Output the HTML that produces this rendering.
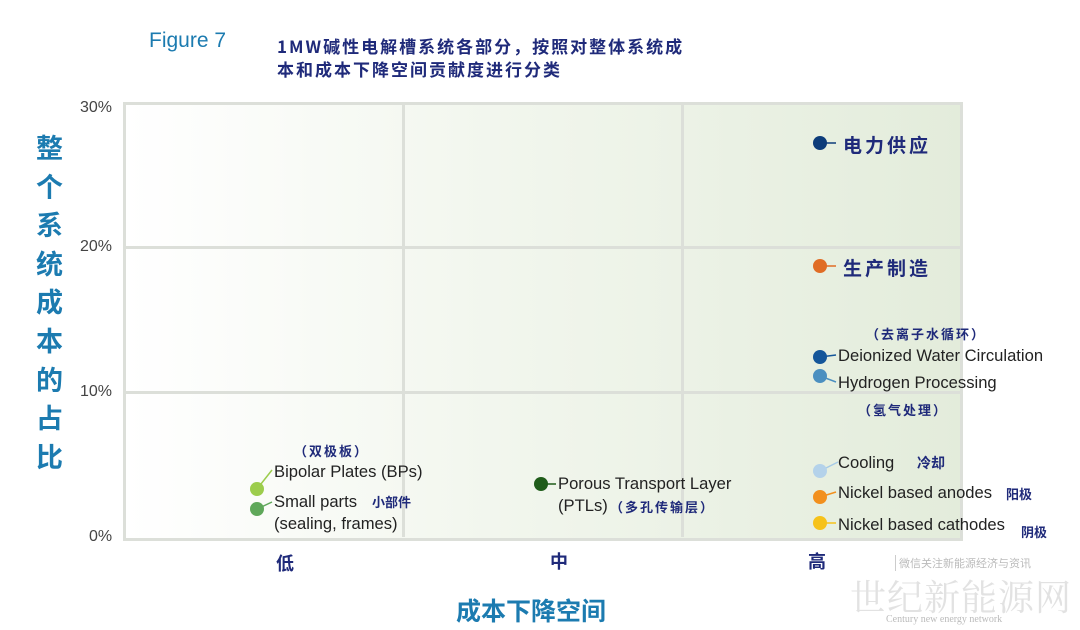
<!DOCTYPE html>
<html><head><meta charset="utf-8"><style>
body{margin:0;width:1080px;height:630px;background:#fff;position:relative;overflow:hidden;font-family:"Liberation Sans","Noto Sans CJK SC",sans-serif}
.a{position:absolute;white-space:nowrap}
.cn{font-family:"Noto Sans CJK SC",sans-serif;color:#1f2a7a}
.lab{font-size:16.6px;color:#222}
</style></head><body>
<div class="a" style="left:149px;top:29px;font-size:21px;color:#1c7bb0">Figure 7</div>
<div class="a cn" style="left:277px;top:34px;font-size:17px;line-height:23px;font-weight:bold;letter-spacing:2px">1MW碱性电解槽系统各部分，按照对整体系统成<br>本和成本下降空间贡献度进行分类</div>

<div class="a" style="left:123px;top:102px;width:834px;height:433px;border:3px solid #dcdfd9;background:linear-gradient(90deg,#ffffff 0%,#f3f7ef 40%,#e3ecdb 100%)"></div>
<div class="a" style="left:402px;top:105px;width:3px;height:432px;background:#dcdfd9"></div>
<div class="a" style="left:681px;top:105px;width:3px;height:432px;background:#dcdfd9"></div>
<div class="a" style="left:126px;top:246px;width:834px;height:3px;background:#dcdfd9"></div>
<div class="a" style="left:126px;top:391px;width:834px;height:3px;background:#dcdfd9"></div>

<div class="a" style="left:80px;top:99px;font-size:16px;color:#444">30%</div>
<div class="a" style="left:80px;top:238px;font-size:16px;color:#444">20%</div>
<div class="a" style="left:80px;top:383px;font-size:16px;color:#444">10%</div>
<div class="a" style="left:89px;top:528px;font-size:16px;color:#444">0%</div>

<div class="a" style="left:36px;top:128px;width:30px;font-size:27px;font-weight:bold;line-height:38.6px;color:#1c7bb0;white-space:normal;font-family:'Noto Sans CJK SC',sans-serif">整个系统成本的占比</div>
<div class="a cn" style="left:276px;top:550px;font-size:18px;font-weight:bold">低</div>
<div class="a cn" style="left:550px;top:548px;font-size:18px;font-weight:bold">中</div>
<div class="a cn" style="left:808px;top:548px;font-size:18px;font-weight:bold">高</div>
<div class="a" style="left:456px;top:592px;font-size:25px;font-weight:bold;color:#1c7bb0;font-family:'Noto Sans CJK SC',sans-serif">成本下降空间</div>

<svg class="a" style="left:0;top:0" width="1080" height="630">
<g stroke-width="1.5" fill="none">
<line x1="820" y1="143" x2="836" y2="143" stroke="#0d3c7a"/>
<line x1="820" y1="266" x2="836" y2="266" stroke="#e06c25"/>
<line x1="820" y1="357" x2="836" y2="355" stroke="#15569a"/>
<line x1="820" y1="376" x2="836" y2="382" stroke="#4b8fc0"/>
<line x1="820" y1="471" x2="838" y2="462" stroke="#a8cbe6"/>
<line x1="820" y1="497" x2="836" y2="492" stroke="#f2901e"/>
<line x1="820" y1="523" x2="836" y2="523" stroke="#f6c21a"/>
<line x1="541" y1="484" x2="556" y2="484" stroke="#1f5c1a"/>
<line x1="257" y1="489" x2="272" y2="470" stroke="#9ccd4c"/>
<line x1="257" y1="509" x2="272" y2="502" stroke="#5fa85a"/>
</g>
<circle cx="820" cy="143" r="7" fill="#0d3c7a"/>
<circle cx="820" cy="266" r="7" fill="#e06c25"/>
<circle cx="820" cy="357" r="7" fill="#15569a"/>
<circle cx="820" cy="376" r="7" fill="#4b8fc0"/>
<circle cx="820" cy="471" r="7" fill="#b4d2ea"/>
<circle cx="820" cy="497" r="7" fill="#f2901e"/>
<circle cx="820" cy="523" r="7" fill="#f6c21a"/>
<circle cx="541" cy="484" r="7" fill="#1f5c1a"/>
<circle cx="257" cy="489" r="7" fill="#9ccd4c"/>
<circle cx="257" cy="509" r="7" fill="#5fa85a"/>
</svg>

<div class="a cn" style="left:843px;top:131px;font-size:19px;letter-spacing:3px;font-weight:bold">电力供应</div>
<div class="a cn" style="left:843px;top:254px;font-size:19px;letter-spacing:3px;font-weight:bold">生产制造</div>
<div class="a cn" style="left:866px;top:324px;font-size:13px;letter-spacing:2px;font-weight:bold">（去离子水循环）</div>
<div class="a lab" style="left:838px;top:346px">Deionized Water Circulation</div>
<div class="a lab" style="left:838px;top:373px">Hydrogen Processing</div>
<div class="a cn" style="left:858px;top:400px;font-size:13px;letter-spacing:2px;font-weight:bold">（氢气处理）</div>
<div class="a lab" style="left:838px;top:453px">Cooling</div>
<div class="a cn" style="left:917px;top:453px;font-size:14px;font-weight:bold">冷却</div>
<div class="a lab" style="left:838px;top:483px">Nickel based anodes</div>
<div class="a cn" style="left:1006px;top:484px;font-size:13px;font-weight:bold">阳极</div>
<div class="a lab" style="left:838px;top:515px">Nickel based cathodes</div>
<div class="a cn" style="left:1021px;top:522px;font-size:13px;font-weight:bold">阴极</div>
<div class="a lab" style="left:558px;top:474px">Porous Transport Layer</div>
<div class="a lab" style="left:558px;top:496px">(PTLs)</div>
<div class="a cn" style="left:610px;top:497px;font-size:13px;letter-spacing:2px;font-weight:bold">（多孔传输层）</div>
<div class="a cn" style="left:294px;top:441px;font-size:13px;letter-spacing:2px;font-weight:bold">（双极板）</div>
<div class="a lab" style="left:274px;top:462px">Bipolar Plates (BPs)</div>
<div class="a lab" style="left:274px;top:492px">Small parts</div>
<div class="a cn" style="left:372px;top:492px;font-size:13px;font-weight:bold">小部件</div>
<div class="a lab" style="left:274px;top:514px">(sealing, frames)</div>

<div class="a" style="left:895px;top:555px;font-size:11px;color:#bbb;border-left:1px solid #ccc;padding-left:3px">微信关注新能源经济与资讯</div>
<div class="a" style="left:850px;top:570px;font-size:36px;color:#e2e2e2;letter-spacing:1px;font-family:'Noto Serif CJK SC',serif">世纪新能源网</div>
<div class="a" style="left:886px;top:614px;font-size:10px;color:#bbb;font-family:'Liberation Serif',serif">Century new energy network</div>
</body></html>
